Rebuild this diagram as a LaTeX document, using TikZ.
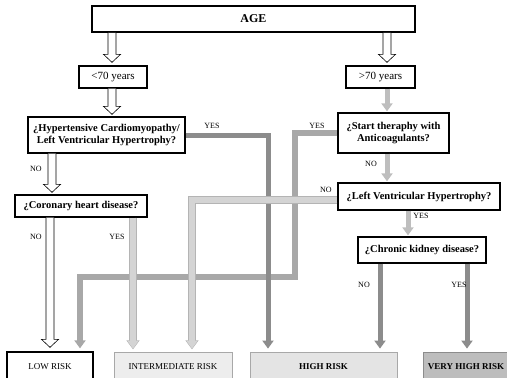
\documentclass[tikz,border=0pt]{standalone}
\usepackage{fontspec}
\setmainfont{Liberation Serif}
\usetikzlibrary{arrows.meta,calc}
\definecolor{darkg}{HTML}{8C8C8C}
\definecolor{medg}{HTML}{A8A8A8}
\definecolor{midlg}{HTML}{BEBEBE}
\definecolor{lightg}{HTML}{D4D4D4}
\definecolor{lightedge}{HTML}{B4B4B4}
\definecolor{interfill}{HTML}{EDEDED}
\definecolor{highfill}{HTML}{E4E4E4}
\definecolor{vhfill}{HTML}{BDBDBD}
\newcommand\hollowarr[2]{%
  \draw[hollowst] ($(#1)+(-4,0)$) -- ($(#2)+(-4,-8)$) -- ($(#2)+(-8.5,-8)$) -- (#2)
    -- ($(#2)+(8.5,-8)$) -- ($(#2)+(4,-8)$) -- ($(#1)+(4,0)$);}
\begin{document}
\begin{tikzpicture}[x=1pt,y=-1pt,
  hollowst/.style={draw=black, line width=0.6pt, fill=white},
  qbox/.style={draw=black, line width=1.3pt, fill=white, inner sep=0pt, align=center,
    font=\bfseries\fontsize{10.5}{12.5}\selectfont},
  agebox/.style={qbox, line width=1.6pt, font=\bfseries\fontsize{12}{14}\selectfont},
  yrbox/.style={qbox, font=\fontsize{11}{13}\selectfont},
  riskbox/.style={inner sep=0pt, align=center, font=\fontsize{9}{11}\selectfont},
  lbl/.style={inner sep=0pt, font=\fontsize{8}{9}\selectfont},
  garrow/.style={line width=#1, -{Triangle[width=11pt,length=8pt]}},
  edgearrow/.style={line width=#1, lightedge, -{Triangle[width=12.6pt,length=9pt]}}
]
\useasboundingbox (0,0) rectangle (507,378);

% boxes
\node[agebox, minimum width=323, minimum height=26] (age) at (253.5,19) {AGE};
\node[yrbox, minimum width=68, minimum height=22] (lt) at (113,77) {<70 years};
\node[yrbox, minimum width=69, minimum height=22] (gt) at (380.5,77) {>70 years};
\node[qbox, minimum width=157, minimum height=36] (hyp) at (106.5,135)
  {¿Hypertensive Cardiomyopathy/\\Left Ventricular Hypertrophy?};
\node[qbox, minimum width=111, minimum height=40] (start) at (393.5,133)
  {¿Start theraphy with\\Anticoagulants?};
\node[qbox, minimum width=132, minimum height=22] (cor) at (81,206) {¿Coronary heart disease?};
\node[qbox, minimum width=162, minimum height=27] (lvh) at (419,196.5) {¿Left Ventricular Hypertrophy?};
\node[qbox, minimum width=128, minimum height=26] (ckd) at (422,250) {¿Chronic kidney disease?};

\node[riskbox, draw=black, line width=1.3pt, fill=white, minimum width=86, minimum height=30] (low) at (50,367) {LOW RISK};
\node[riskbox, draw=medg, line width=0.8pt, fill=interfill, minimum width=118, minimum height=30] (inter) at (173,367) {INTERMEDIATE RISK};
\node[riskbox, draw=medg, line width=0.8pt, fill=highfill, minimum width=147, minimum height=30, font=\bfseries\fontsize{9}{11}\selectfont] (high) at (323.5,367) {HIGH RISK};
\node[riskbox, draw=darkg, line width=0.8pt, fill=vhfill, minimum width=86, minimum height=30, font=\bfseries\fontsize{9}{11}\selectfont] (vhigh) at (466,367) {VERY HIGH RISK};

% x positions of connectors
\coordinate (xL) at (112,0);
\coordinate (xR) at (387,0);
\coordinate (xH) at (52,0);
\coordinate (xCn) at (50,0);
\coordinate (xCy) at (133,0);
\coordinate (xLowG) at (80,0);
\coordinate (xInt) at (192,0);
\coordinate (xHy) at (268,0);
\coordinate (xSy) at (295,0);
\coordinate (xLy) at (408,0);
\coordinate (xKn) at (380,0);
\coordinate (xKy) at (467,0);
\coordinate (ySy) at (0,277);
\coordinate (yLn) at (0,200);

% tips
\coordinate (t1) at ($(xL |- lt.north)+(0,-3)$);
\coordinate (t2) at ($(xR |- gt.north)+(0,-3)$);
\coordinate (t3) at ($(xL |- hyp.north)+(0,-2)$);
\coordinate (t5) at ($(xH |- cor.north)+(0,-2)$);
\coordinate (t11) at ($(xCn |- low.north)+(0,-4)$);

% hollow arrows
\hollowarr{xL |- age.south}{t1}
\hollowarr{xR |- age.south}{t2}
\hollowarr{xL |- lt.south}{t3}
\hollowarr{xH |- hyp.south}{t5}
\hollowarr{xCn |- cor.south}{t11}

% grey connectors (layered: medium, dark, light)
\draw[garrow=5pt, midlg, shorten >=1pt] (xR |- gt.south) -- (xR |- start.north);
\draw[garrow=5pt, midlg, shorten >=1pt] (xR |- start.south) -- (xR |- lvh.north);
\draw[garrow=5pt, midlg, shorten >=1pt] (xLy |- lvh.south) -- (xLy |- ckd.north);

\draw[garrow=6pt, medg, shorten >=3pt] (start.west) -- (xSy |- start.west) -- (xSy |- ySy) -- (xLowG |- ySy) -- (xLowG |- low.north);
\draw[garrow=5pt, darkg, shorten >=3pt] (hyp.east) -- (xHy |- hyp.east) -- (xHy |- high.north);
\draw[garrow=5pt, darkg, shorten >=3pt] (xKn |- ckd.south) -- (xKn |- high.north);
\draw[garrow=5pt, darkg, shorten >=3pt] (xKy |- ckd.south) -- (xKy |- vhigh.north);

\draw[edgearrow=7.2pt, shorten >=2.2pt] (lvh.west |- yLn) -- (xInt |- yLn) -- (xInt |- inter.north);
\draw[garrow=6pt, lightg, shorten >=3pt] (lvh.west |- yLn) -- (xInt |- yLn) -- (xInt |- inter.north);
\draw[edgearrow=7.2pt, shorten >=2.2pt] (xCy |- cor.south) -- (xCy |- inter.north);
\draw[garrow=6pt, lightg, shorten >=3pt] (xCy |- cor.south) -- (xCy |- inter.north);

% labels
\node[lbl] (l1) at (212,126) {YES};
\node[lbl] (l2) at (317,126) {YES};
\node[lbl] (l3) at (36,169) {NO};
\node[lbl] (l4) at (371,164) {NO};
\node[lbl] (l5) at (326,190) {NO};
\node[lbl] (l6) at (421,216) {YES};
\node[lbl] (l7) at (36,237) {NO};
\node[lbl] (l8) at (117,237) {YES};
\node[lbl] (l9) at (364,285) {NO};
\node[lbl] (l10) at (459,285) {YES};
\end{tikzpicture}
\end{document}
